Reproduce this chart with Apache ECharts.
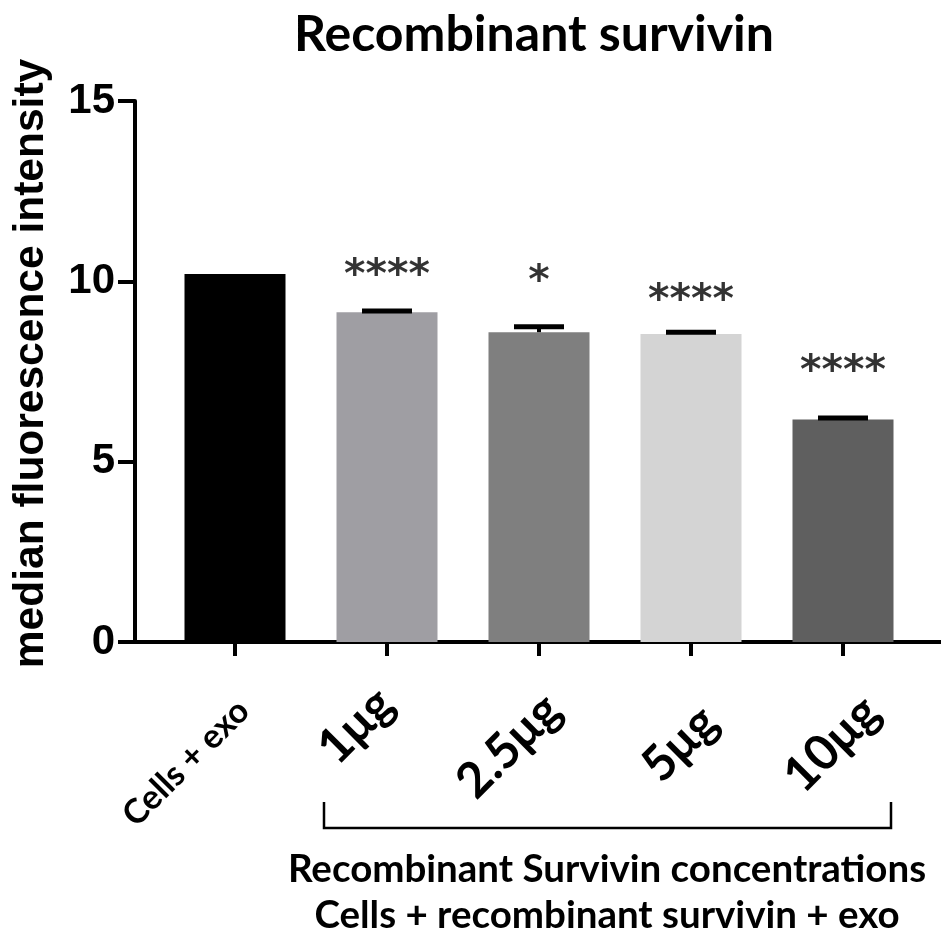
<!DOCTYPE html>
<html>
<head>
<meta charset="utf-8">
<script src="https://cdn.jsdelivr.net/npm/echarts@6/dist/echarts.min.js"></script>
<style>
html,body{margin:0;padding:0;background:#fff;}
#chart{width:941px;height:931px;}
</style>
</head>
<body>
<div id="chart"></div>
<script>
// ---- data ----
const categories = ['Cells + exo', '1μg', '2.5μg', '5μg', '10μg'];
const means = [10.20, 9.14, 8.59, 8.54, 6.17];
const errors = [0, 0.04, 0.15, 0.05, 0.04];
const sigLabels = ['', '****', '*', '****', '****'];
const sigY = [null, 10.40, 10.23, 9.70, 7.73];
const yMin = 0, yMax = 15, yStep = 5;
const titleText = 'Recombinant survivin';
const yAxisTitle = 'median fluorescence intensity';
const groupLine1 = 'Recombinant Survivin concentrations';
const groupLine2 = 'Cells + recombinant survivin + exo';

// ---- styles / layout ----
const barColors = ['#000000', '#9f9ea3', '#7f7f7f', '#d4d4d4', '#5f5f5f'];
const labelFontSizes = [34, 49, 49, 49, 49];
// pixel offset of each rotated label's centre from the foot of its tick
const labelCenters = [[-49, 121], [-31, 84], [-30, 104], [-11, 102], [-11, 102]];
const labelMargin = 10;

const chart = echarts.init(document.getElementById('chart'), null, {renderer: 'canvas'});

const measureCtx = document.createElement('canvas').getContext('2d');
const R2 = Math.SQRT2;
const catItems = categories.map((c, i) => {
  measureCtx.font = 'bold ' + labelFontSizes[i] + 'px Lato';
  const w = measureCtx.measureText(c).width;
  const dx = labelCenters[i][0], dy = labelCenters[i][1] - labelMargin;
  const a = (dx - dy) / R2, b = (dx + dy) / R2;   // along-text and across-text shifts
  const pr = Math.max(0, -a - w / 2);
  return {value: c, textStyle: {fontSize: labelFontSizes[i], lineHeight: Math.max(2 * b, labelFontSizes[i]),
          padding: [0, pr, 0, 0], align: 'right', verticalAlign: 'middle'}};
});

const errData = means.map((m, i) => [i, m, errors[i]]);
const starData = [];
sigY.forEach((y, i) => { if (y !== null) starData.push({value: [i, y], name: sigLabels[i]}); });

const option = {
  backgroundColor: '#fff',
  animation: false,
  title: {
    text: titleText,
    left: 529, top: 5, textAlign: 'center',
    textStyle: {fontFamily: 'Lato', fontWeight: 'bold', fontSize: 50, color: '#000'}
  },
  grid: [
    {left: 135, right: 0, top: 101, bottom: 289, outerBoundsMode: 'none', containLabel: false},
    {left: 159, width: 760, top: 101, bottom: 289, outerBoundsMode: 'none', containLabel: false}
  ],
  xAxis: [
    {gridIndex: 0, type: 'value', min: 0, max: 1,
     axisLine: {show: true, lineStyle: {color: '#000', width: 4}},
     axisTick: {show: false}, axisLabel: {show: false}, splitLine: {show: false}},
    {gridIndex: 1, type: 'category', data: catItems,
     axisLine: {show: false},
     axisTick: {show: true, alignWithLabel: true, length: 14, lineStyle: {color: '#000', width: 4}},
     axisLabel: {rotate: 45, margin: labelMargin, hideOverlap: false, formatter: v => '\n' + v,
                 fontFamily: 'Lato', fontWeight: 'bold', fontSize: 49, color: '#000', interval: 0},
     splitLine: {show: false}}
  ],
  yAxis: [
    {gridIndex: 0, type: 'value', min: yMin, max: yMax, interval: yStep,
     axisLine: {show: true, lineStyle: {color: '#000', width: 4}},
     axisTick: {show: true, length: 17, lineStyle: {color: '#000', width: 4}},
     axisLabel: {margin: 20, fontFamily: 'Liberation Sans', fontWeight: 'bold', fontSize: 42, color: '#000'},
     splitLine: {show: false},
     name: yAxisTitle, nameLocation: 'middle', nameGap: 82,
     nameTextStyle: {fontFamily: 'Liberation Sans', fontWeight: 'bold', fontSize: 42.5, color: '#000', padding: [0, 0, 0, 16]}},
    {gridIndex: 1, type: 'value', min: yMin, max: yMax, interval: yStep, show: false}
  ],
  series: [
    {type: 'bar', xAxisIndex: 1, yAxisIndex: 1, barWidth: 101,
     data: means.map((v, i) => ({value: v, itemStyle: {color: barColors[i]}})),
     z: 2},
    {type: 'custom', xAxisIndex: 1, yAxisIndex: 1, z: 3,
     data: errData,
     renderItem: function (params, api) {
       const i = api.value(0), m = api.value(1), e = api.value(2);
       if (!e) return {type: 'group', children: []};
       const base = api.coord([i, m]);
       const top = api.coord([i, m + e]);
       return {type: 'group', children: [
         {type: 'line', shape: {x1: base[0], y1: base[1], x2: top[0], y2: top[1]}, style: {stroke: '#000', lineWidth: 4}},
         {type: 'line', shape: {x1: top[0] - 25, y1: top[1], x2: top[0] + 25, y2: top[1]}, style: {stroke: '#000', lineWidth: 5}}
       ]};
     }},
    {type: 'scatter', xAxisIndex: 1, yAxisIndex: 1, z: 4,
     data: starData, symbolSize: 1, itemStyle: {color: 'rgba(0,0,0,0)'},
     label: {show: true, position: 'inside', offset: [0, 9], formatter: p => p.name,
             fontFamily: 'DejaVu Sans', fontWeight: 'bold', fontSize: 41, color: '#000'}}
  ],
  graphic: [
    {type: 'polyline', shape: {points: [[324, 802], [324, 828], [891, 828], [891, 802]]},
     style: {stroke: '#000', lineWidth: 2.5, fill: null}},
    {type: 'text', x: 607, y: 870,
     style: {text: groupLine1, fontFamily: 'Lato', fontWeight: 'bold', fontSize: 38.5, fill: '#000', align: 'center', verticalAlign: 'middle'}},
    {type: 'text', x: 607, y: 916,
     style: {text: groupLine2, fontFamily: 'Lato', fontWeight: 'bold', fontSize: 38.5, fill: '#000', align: 'center', verticalAlign: 'middle'}}
  ]
};
chart.setOption(option);
</script>
</body>
</html>
